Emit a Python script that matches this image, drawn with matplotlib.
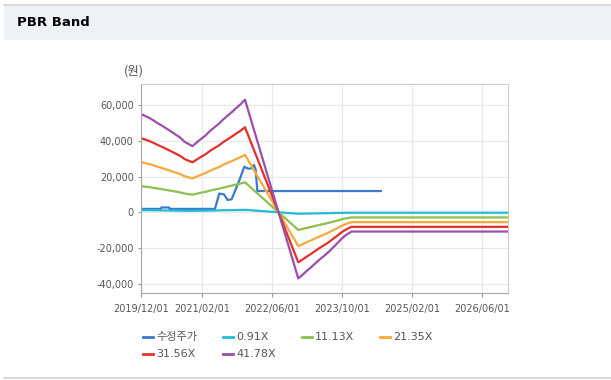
import numpy as np
import pandas as pd
import matplotlib
matplotlib.use('Agg')
import matplotlib.pyplot as plt
import matplotlib.dates as mdates
from matplotlib.lines import Line2D
from matplotlib.patches import Rectangle
from matplotlib.ticker import FuncFormatter

plt.rcParams['font.family'] = ['DejaVu Sans', 'Noto Sans CJK KR']

# BPS (book value per share)
bps_dates = pd.to_datetime([
    '2019-12-01', '2020-01-01', '2020-02-01', '2020-03-01', '2020-04-01',
    '2020-05-01', '2020-06-01', '2020-07-01', '2020-08-01', '2020-09-01',
    '2020-10-01', '2020-11-25', '2020-12-25', '2021-01-25', '2021-02-25',
    '2021-03-25', '2021-04-25', '2021-05-25', '2021-06-25', '2021-07-25',
    '2021-08-25', '2021-09-25', '2021-10-25', '2021-11-26', '2022-12-02',
    '2023-01-02', '2023-02-02', '2023-03-02', '2023-04-02', '2023-05-02',
    '2023-06-02', '2023-07-02', '2023-08-02', '2023-09-02', '2023-10-02',
    '2023-11-02', '2023-12-08', '2026-12-01'])
bps = [1316, 1290, 1262, 1228, 1190,
       1156, 1118, 1080, 1040, 1000,
       945, 886, 935, 985, 1030,
       1085, 1135, 1180, 1240, 1290,
       1340, 1395, 1445, 1508, -886,
       -835, -780, -735, -680, -628,
       -580, -530, -470, -410, -350,
       -300, -258, -258]

multiples = [0.91, 11.13, 21.35, 31.56, 41.78]
band_labels = ['0.91X', '11.13X', '21.35X', '31.56X', '41.78X']
band_colors = ['#22bcd4', '#8cbf4d', '#f8a93a', '#e2312b', '#9b4fa8']

# adjusted price
price_dates = pd.to_datetime([
    '2019-12-01', '2020-04-20', '2020-04-23', '2020-06-16', '2020-06-19',
    '2021-05-01', '2021-05-31', '2021-07-03', '2021-07-28', '2021-08-25',
    '2021-09-29', '2021-10-27', '2021-11-21', '2021-12-19', '2022-01-11',
    '2022-01-27', '2022-02-08', '2022-02-20', '2024-06-29'])
price = [1900, 1900, 2700, 2700, 1900,
         1900, 10500, 10000, 6900, 7300,
         14200, 19900, 25500, 24400, 24600,
         26500, 24000, 11900, 11900]
price_label = '수정주가'
price_color = '#3b7bcc'

fig = plt.figure(figsize=(6.11, 3.8), dpi=100)
fig.patch.set_facecolor('white')

# header strip
fig.add_artist(Rectangle((4 / 611, 1 - 40 / 380), 1, 35 / 380, transform=fig.transFigure,
                         facecolor='#eef2f7', edgecolor='none', zorder=0))
fig.add_artist(Line2D([4 / 611, 1], [1 - 4.5 / 380] * 2, transform=fig.transFigure,
                      color='#d2d2d2', lw=1.2))
fig.add_artist(Line2D([4 / 611, 1], [1 - 377.5 / 380] * 2, transform=fig.transFigure,
                      color='#d2d2d2', lw=1.2))
fig.text(17 / 611, 1 - 22.5 / 380, 'PBR Band', fontsize=9.5, fontweight='bold',
         va='center', ha='left', color='black')

ax = fig.add_axes([140.7 / 611, 1 - 292.7 / 380, (508 - 140.7) / 611, (292.7 - 84) / 380])

ax.plot(price_dates, price, color=price_color, lw=1.6)
bps_arr = np.array(bps, dtype=float)
for m, c in zip(multiples, band_colors):
    ax.plot(bps_dates, bps_arr * m, color=c, lw=1.6)

ax.set_xlim(pd.Timestamp('2019-12-01'), pd.Timestamp('2026-12-01'))
ax.set_ylim(-45000, 71800)
ax.set_yticks([-40000, -20000, 0, 20000, 40000, 60000])
ax.yaxis.set_major_formatter(FuncFormatter(lambda v, p: f'{int(v):,}'))
xt = pd.to_datetime(['2019-12-01', '2021-02-01', '2022-06-01', '2023-10-01',
                     '2025-02-01', '2026-06-01'])
ax.set_xticks(xt)
ax.xaxis.set_major_formatter(mdates.DateFormatter('%Y/%m/%d'))

ax.grid(True, color='#e8e8e8', lw=0.9)
ax.set_axisbelow(True)
ax.tick_params(axis='both', labelsize=7, colors='#999999', labelcolor='#555555')
ax.tick_params(axis='x', length=3, pad=5)
ax.tick_params(axis='y', length=2, pad=3)
for side in ['top', 'right']:
    ax.spines[side].set_color('#cccccc')
for side in ['left', 'bottom']:
    ax.spines[side].set_color('#a8a8a8')

fig.text(134 / 611, 1 - 71.5 / 380, '(원)', fontsize=9, ha='center', va='center',
         color='#555555', family=['Noto Sans CJK KR', 'DejaVu Sans'])

# legend
labels = [price_label] + band_labels
colors = [price_color] + band_colors
xs = [142.7, 223, 301.7, 380, 142.7, 223]
ys = [337, 337, 337, 337, 354, 354]
for lab, c, x, y in zip(labels, colors, xs, ys):
    fig.add_artist(Line2D([x / 611, (x + 10) / 611], [1 - y / 380] * 2,
                          transform=fig.transFigure, color=c, lw=2))
    fig.text((x + 13.5) / 611, 1 - y / 380, lab, fontsize=8, ha='left', va='center',
             color='#555555', family=['DejaVu Sans', 'Noto Sans CJK KR'])

fig.savefig('out.png', dpi=100)
